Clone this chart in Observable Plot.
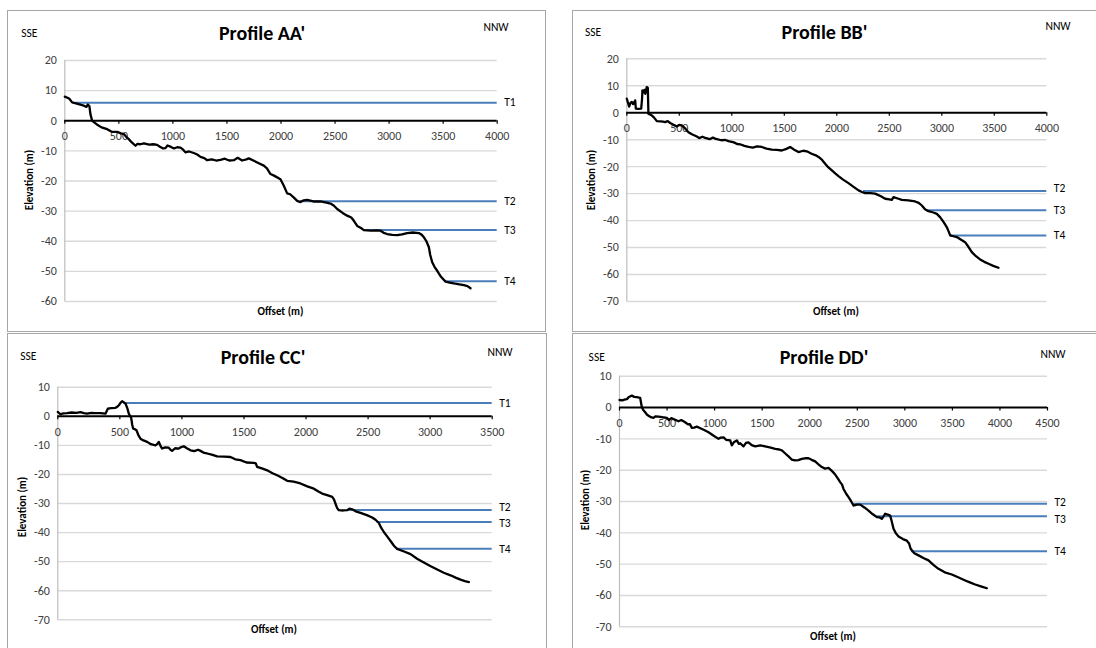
<!DOCTYPE html>
<html><head><meta charset="utf-8">
<script src="https://cdn.jsdelivr.net/npm/d3@7"></script>
<script src="https://cdn.jsdelivr.net/npm/@observablehq/plot@0.6"></script>
<style>
body{margin:0;background:#fff;width:1096px;height:648px;overflow:hidden;position:relative;font-family:Carlito,Lato,sans-serif;}
.box{position:absolute;border:1.5px solid #a6a6a6;box-sizing:border-box;}
.plotwrap{position:absolute;}
.plotwrap svg{display:block;max-width:none;background:transparent;}
.lbl{position:absolute;transform:translate(-50%,-50%);white-space:nowrap;color:#000;line-height:1;}
.title{font-weight:bold;font-size:20px;}
.dir{font-size:11.5px;color:#000;}
.axt{font-weight:bold;font-size:11px;}
</style></head><body>
<script>
// ---------- DATA ----------
const xticksAA = [0,500,1000,1500,2000,2500,3000,3500,4000];
const yticksAA = [20,10,0,-10,-20,-30,-40,-50,-60];
const profileAA = [[0,8],[40,7.4],[68,6.1],[120,5.6],[176,5],[200,4.6],[213,5.4],[228,4.8],[237,2.2],[253,0],[275,-0.6],[300,-1.3],[340,-2.2],[392,-2.8],[430,-3.6],[484,-3.7],[520,-4.2],[546,-4.4],[570,-5.4],[592,-6.1],[620,-7.2],[654,-8.3],[670,-7.7],[700,-7.8],[731,-7.5],[780,-7.9],[820,-7.8],[854,-8],[880,-8.6],[910,-9.2],[931,-9.1],[950,-8.2],[978,-8.6],[1010,-9.2],[1040,-8.8],[1070,-8.9],[1095,-9.6],[1116,-10.5],[1150,-10.2],[1193,-10.7],[1225,-11.2],[1255,-12],[1290,-12.4],[1317,-13.1],[1360,-12.8],[1400,-13.2],[1440,-13],[1480,-12.6],[1520,-13.2],[1563,-13.1],[1600,-12.3],[1640,-13.2],[1680,-12.8],[1702,-12.5],[1749,-13.3],[1790,-14],[1841,-14.9],[1870,-15.8],[1903,-17.7],[1940,-18.3],[1995,-19.4],[2026,-21.6],[2057,-24.1],[2085,-24.4],[2119,-25.5],[2150,-26.6],[2180,-27],[2210,-26.4],[2242,-26.3],[2300,-26.8],[2365,-26.8],[2420,-27.2],[2458,-27.5],[2490,-28.2],[2520,-29.3],[2570,-30.6],[2612,-31.5],[2650,-32.1],[2674,-33.2],[2705,-34.9],[2740,-35.6],[2766,-36.3],[2830,-36.5],[2880,-36.4],[2920,-36.5],[2950,-37.2],[2982,-37.6],[3030,-37.9],[3075,-38],[3120,-37.7],[3167,-37.3],[3220,-37.1],[3275,-37.3],[3300,-37.8],[3322,-38.7],[3345,-40],[3368,-42],[3380,-44.5],[3399,-47],[3420,-48.5],[3445,-49.8],[3480,-51.8],[3522,-53.4],[3560,-53.7],[3599,-54],[3650,-54.3],[3692,-54.6],[3725,-54.9],[3753,-55.6]];
const terracesAA = [{name:"T1",x:100,y:6},{name:"T2",x:2180,y:-26.7},{name:"T3",x:2766,y:-36.3},{name:"T4",x:3522,y:-53.3}];

const xticksBB = [0,500,1000,1500,2000,2500,3000,3500,4000];
const yticksBB = [20,10,0,-10,-20,-30,-40,-50,-60,-70];
const profileBB = [[0,5.2],[22,2.3],[35,3.6],[48,4],[60,3.2],[73,4],[80,4.6],[86,1.5],[110,1.4],[137,1.5],[145,5],[149,8.3],[160,7.6],[168,8.5],[176,7],[190,9.5],[200,9.3],[206,-0.4],[220,-0.6],[238,-1],[260,-1.8],[286,-3.1],[320,-3.2],[345,-3.3],[365,-3.5],[390,-3.1],[413,-3.8],[440,-4.4],[476,-5.1],[500,-4.5],[524,-4.7],[550,-5.6],[587,-7.2],[620,-8],[667,-8.8],[690,-9.4],[720,-8.9],[746,-9.3],[790,-9.8],[820,-9.2],[841,-9.6],[900,-10.2],[940,-10.1],[968,-10.5],[1020,-11],[1050,-11.6],[1079,-11.7],[1120,-12.3],[1159,-12.7],[1200,-12.9],[1240,-12.5],[1286,-12.7],[1330,-13.3],[1381,-13.7],[1430,-13.8],[1476,-14],[1520,-13.4],[1556,-12.7],[1590,-13.6],[1635,-14.6],[1680,-14.1],[1714,-14.3],[1760,-15.2],[1800,-15.8],[1826,-16.4],[1860,-17.5],[1889,-18.9],[1920,-20.3],[1953,-21.4],[1985,-22.5],[2016,-23.5],[2060,-24.8],[2111,-26.1],[2160,-27.5],[2207,-28.8],[2240,-29.4],[2270,-29.8],[2320,-29.8],[2365,-30],[2420,-31],[2461,-31.9],[2500,-32.1],[2524,-32.3],[2540,-31.3],[2580,-31.8],[2619,-32.3],[2680,-32.5],[2746,-32.9],[2780,-33.4],[2810,-34.4],[2840,-35.8],[2873,-36.5],[2920,-37],[2953,-37.5],[2985,-38.8],[3016,-40.5],[3050,-42.6],[3080,-45.5],[3110,-45.8],[3143,-46.1],[3180,-47],[3222,-48],[3255,-49.8],[3286,-51.7],[3325,-53.2],[3365,-54.4],[3405,-55.3],[3445,-56],[3490,-56.8],[3540,-57.5]];
const terracesBB = [{name:"T2",x:2254,y:-29},{name:"T3",x:2857,y:-36.2},{name:"T4",x:3080,y:-45.5}];

const xticksCC = [0,500,1000,1500,2000,2500,3000,3500];
const yticksCC = [10,0,-10,-20,-30,-40,-50,-60,-70];
const profileCC = [[0,1.5],[21,0.7],[45,1],[75,1.1],[110,1.3],[150,1.2],[183,1.4],[210,1.1],[236,0.9],[270,1.2],[300,1.1],[344,1.1],[384,0.9],[403,2.6],[430,2.8],[465,2.9],[480,3.3],[492,3.8],[505,4.6],[518,5.2],[545,4.4],[560,2.8],[572,0.9],[591,-0.5],[600,-3],[607,-4.2],[622,-4.5],[634,-4.8],[650,-6.6],[666,-7.7],[690,-8.3],[720,-8.8],[750,-9.6],[787,-10],[800,-9.6],[814,-8.8],[830,-10.4],[841,-11.1],[865,-10.7],[894,-10.8],[910,-11.6],[921,-11.9],[945,-11],[975,-11.1],[995,-10.6],[1015,-10.3],[1040,-11],[1069,-11.7],[1100,-12],[1130,-11.5],[1150,-11.9],[1180,-12.6],[1203,-12.8],[1240,-13.2],[1284,-13.8],[1340,-13.9],[1391,-14],[1430,-14.8],[1472,-15.1],[1520,-15.9],[1579,-16],[1595,-16.2],[1606,-17.4],[1650,-18],[1687,-18.6],[1730,-19.6],[1767,-20.3],[1810,-21.2],[1848,-22.2],[1900,-22.5],[1955,-23.1],[2010,-24.1],[2063,-24.9],[2100,-25.9],[2130,-26.6],[2170,-27.1],[2211,-27.7],[2225,-28.6],[2237,-30],[2250,-31.5],[2264,-32.3],[2300,-32.4],[2331,-32.3],[2350,-31.8],[2372,-32],[2400,-32.7],[2439,-33.2],[2490,-34],[2533,-34.8],[2560,-35.6],[2587,-36.7],[2605,-38.3],[2627,-39.8],[2655,-41.4],[2681,-42.9],[2710,-44.6],[2734,-45.6],[2790,-46.5],[2842,-47.4],[2895,-49],[2949,-50.3],[3005,-51.6],[3057,-52.7],[3110,-53.8],[3164,-54.7],[3205,-55.5],[3245,-56.2],[3280,-56.7],[3312,-57]];
const terracesCC = [{name:"T1",x:532,y:4.6},{name:"T2",x:2345,y:-32.2},{name:"T3",x:2573,y:-36.4},{name:"T4",x:2734,y:-45.6}];

const xticksDD = [0,500,1000,1500,2000,2500,3000,3500,4000,4500];
const yticksDD = [10,0,-10,-20,-30,-40,-50,-60,-70];
const profileDD = [[0,2.4],[30,2.3],[60,2.6],[80,2.7],[95,3.3],[115,3.6],[130,3.8],[155,3.4],[182,3.3],[217,3.1],[235,0.1],[250,-0.8],[270,-1.5],[290,-2.3],[305,-2.6],[330,-3.1],[357,-3.3],[380,-2.8],[410,-2.9],[450,-3.1],[498,-3.3],[520,-4],[545,-3.4],[585,-3.9],[620,-4.4],[650,-4],[690,-4.7],[720,-5.4],[740,-5.3],[761,-6.5],[785,-6.4],[813,-6.1],[850,-6.6],[890,-7.2],[936,-7.9],[990,-9],[1041,-10],[1065,-9.6],[1094,-9.5],[1120,-10.3],[1164,-10.5],[1181,-12.1],[1205,-11],[1234,-10.5],[1255,-11.6],[1269,-11.4],[1304,-12.4],[1330,-11.3],[1356,-11.1],[1390,-12],[1427,-12.4],[1480,-12.1],[1532,-12.4],[1590,-12.8],[1637,-13.2],[1680,-13.4],[1707,-13.7],[1740,-14.6],[1777,-15.6],[1810,-16.6],[1847,-16.9],[1880,-16.8],[1917,-16.4],[1950,-16.2],[1987,-16.2],[2020,-16.7],[2057,-17.2],[2095,-18.2],[2128,-19],[2160,-19.5],[2198,-19.3],[2235,-20.3],[2268,-21.4],[2295,-22.6],[2320,-23.8],[2340,-24.6],[2355,-26],[2385,-27.6],[2408,-28.6],[2435,-29.9],[2460,-31.3],[2495,-31],[2531,-31],[2575,-31.9],[2618,-32.9],[2660,-34],[2706,-35],[2735,-35.1],[2758,-35.5],[2780,-34.6],[2794,-33.9],[2820,-34.2],[2846,-34.5],[2862,-36.3],[2881,-38.7],[2905,-40.1],[2934,-41.2],[2980,-42],[3021,-42.5],[3045,-43.4],[3060,-45],[3074,-45.6],[3100,-46.5],[3144,-47.2],[3200,-48.1],[3249,-48.8],[3300,-50.2],[3354,-51.5],[3420,-52.6],[3494,-53.3],[3560,-54.2],[3635,-55.2],[3690,-55.9],[3740,-56.5],[3800,-57.1],[3862,-57.7]];
const terracesDD = [{name:"T2",x:2460,y:-30.7},{name:"T3",x:2706,y:-34.7},{name:"T4",x:3074,y:-45.9}];

// ---------- LAYOUT ----------
const panels = [
  {title:"Profile AA'", profile:profileAA, terraces:terracesAA, xticks:xticksAA, yticks:yticksAA, xdom:[0,4000], ydom:[-60,20],
   box:[7,10,546,332], plot:[64.3,60,496.7,301], labelDy:[0,0,0,0],
   titlePos:[262,32.5], ssePos:[29.3,34.3], nnwPos:[496,28.3], elevPos:[29.3,180], offPos:[280.5,310.7]},
  {title:"Profile BB'", profile:profileBB, terraces:terracesBB, xticks:xticksBB, yticks:yticksBB, xdom:[0,4000], ydom:[-70,20],
   box:[572,10,1100,332], plot:[626.3,58.3,1046.3,301], labelDy:[-3,0,0],
   titlePos:[824.5,31.7], ssePos:[593,33.3], nnwPos:[1058,26.7], elevPos:[590.7,180], offPos:[836,311]},
  {title:"Profile CC'", profile:profileCC, terraces:terracesCC, xticks:xticksCC, yticks:yticksCC, xdom:[0,3500], ydom:[-70,10],
   box:[7,333,547,652], plot:[57.3,386.7,491.7,619.3], labelDy:[0,-3,1.5,0],
   titlePos:[263,356.7], ssePos:[28.3,356.7], nnwPos:[500,353.3], elevPos:[21.7,506.7], offPos:[274,629]},
  {title:"Profile DD'", profile:profileDD, terraces:terracesDD, xticks:xticksDD, yticks:yticksDD, xdom:[0,4500], ydom:[-70,10],
   box:[572,333,1100,652], plot:[619,375.7,1047,626.3], labelDy:[-1,3,0],
   titlePos:[824,356.7], ssePos:[596.7,358.3], nnwPos:[1053,355], elevPos:[584.7,500], offPos:[833,635.7]}
];

function label(text, cls, pos, rotate){
  const d = document.createElement("div");
  d.className = "lbl " + cls;
  d.textContent = text;
  d.style.left = pos[0] + "px";
  d.style.top = pos[1] + "px";
  if (rotate) d.style.transform = "translate(-50%,-50%) rotate(-90deg)";
  document.body.appendChild(d);
}

for (const p of panels) {
  const [bx0,by0,bx1,by1] = p.box;
  const [px0,py0,px1,py1] = p.plot;
  const W = bx1-bx0, H = by1-by0;
  const k = (py1-py0)/(p.ydom[1]-p.ydom[0]);
  const box = document.createElement("div");
  box.className = "box";
  Object.assign(box.style, {left:bx0+"px", top:by0+"px", width:W+"px", height:H+"px"});
  document.body.appendChild(box);

  const tLabelMarks = p.terraces.map((t, i) =>
    Plot.text([t], {x: p.xdom[1], y: "y", text: "name", textAnchor: "start", dx: 7, dy: p.labelDy[i], fill: "#000", fontSize: 11.5}));

  const svg = Plot.plot({
    width: W, height: H,
    marginLeft: px0-bx0, marginRight: bx1-px1, marginTop: py0-by0, marginBottom: by1-py1,
    x: {domain: p.xdom, axis: null},
    y: {domain: p.ydom, axis: null},
    style: {background: "transparent", fontFamily: "Carlito, Lato, sans-serif", overflow: "visible"},
    marks: [
      Plot.ruleY(p.yticks.filter(v => v !== 0), {y: d => d, stroke: "#d9d9d9", strokeWidth: 1.4}),
      Plot.ruleX([p.xdom[0]], {stroke: "#bfbfbf", strokeWidth: 1.2}),
      Plot.text(p.yticks, {x: p.xdom[0], y: d => d, text: d => String(d), textAnchor: "end", dx: -8, fill: "#404040", fontSize: 12}),
      Plot.ruleX(p.xticks, {x: d => d, y1: 0, y2: -3.5/k, stroke: "#000", strokeWidth: 1.2}),
      Plot.ruleY([0], {stroke: "#000", strokeWidth: 2}),
      Plot.text(p.xticks, {x: d => d, y: 0, dy: 15.5, text: d => String(d), fill: "#404040", fontSize: 12}),
      Plot.ruleY(p.terraces, {y: "y", x1: "x", x2: p.xdom[1], stroke: "#4a7ebb", strokeWidth: 2}),
      ...tLabelMarks,
      Plot.line(p.profile, {x: d => d[0], y: d => d[1], stroke: "#000", strokeWidth: 2.3})
    ]
  });
  const wrap = document.createElement("div");
  wrap.className = "plotwrap";
  Object.assign(wrap.style, {left:bx0+"px", top:by0+"px", width:W+"px", height:H+"px"});
  wrap.appendChild(svg);
  document.body.appendChild(wrap);

  label(p.title, "title", p.titlePos);
  label("SSE", "dir", p.ssePos);
  label("NNW", "dir", p.nnwPos);
  label("Elevation (m)", "axt", p.elevPos, true);
  label("Offset (m)", "axt", p.offPos);
}
</script>
</body></html>
